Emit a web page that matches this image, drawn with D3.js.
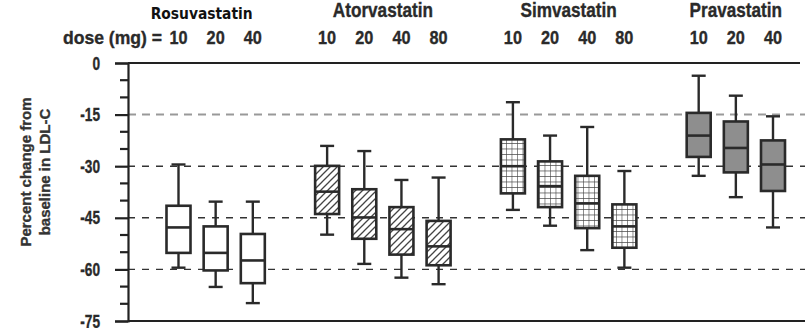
<!DOCTYPE html>
<html><head><meta charset="utf-8">
<script src="https://cdn.jsdelivr.net/npm/d3@7"></script>
<style>
body{margin:0;background:#fff;}
svg{display:block;}
.cond{font-family:"Liberation Sans",Arial,sans-serif;font-weight:bold;stroke:#2a2a2a;stroke-width:0.35px;}
</style></head><body>
<svg id="chart" width="805" height="328"></svg>
<script>
const drugs = ["Rosuvastatin","Atorvastatin","Simvastatin","Pravastatin"];
const doses = [[10,20,40],[10,20,40,80],[10,20,40,80],[10,20,40]];
const whiskerHigh = [[-29.5,-40.3,-40.3],[-24.1,-25.6,-34,-33.3],[-11.4,-21.1,-18.6,-31.4],[-3.7,-9.5,-15.5]];
const q3 = [[-41.5,-47.5,-49.7],[-29.9,-36.7,-41.9,-45.9],[-22.2,-28.6,-32.8,-41.1],[-14.5,-17,-22.5]];
const median = [[-47.8,-55.2,-57.4],[-37.4,-44.9,-48.3,-53.3],[-30,-35.8,-40.8,-47.5],[-21.1,-24.7,-29.5]];
const q1 = [[-55.2,-60.3,-64],[-43.9,-51.1,-55.7,-58.8],[-37.9,-41.9,-48,-53.7],[-27.3,-31.8,-37.2]];
const whiskerLow = [[-59.5,-65.1,-69.8],[-49.9,-58.4,-62.4,-64.3],[-42.7,-47.3,-54.4,-59.5],[-32.8,-39,-47.8]];
const yTicks = [0,-15,-30,-45,-60,-75];
const minorTicks = d3.range(0,-76,-5);
const gridValues = [-15,-30,-45,-60];
const yLabelLines = ["Percent change from","baseline in LDL-C"];
const doseLabel = "dose (mg) =";

const svg = d3.select("#chart");
const y = d3.scaleLinear().domain([0,-75]).range([63,321]);

const boxes = [];
let slot = 0;
drugs.forEach((d,gi)=>{
  doses[gi].forEach((dose,i)=>{
    boxes.push({drug:d, gi, dose, slot, hi:whiskerHigh[gi][i], q3:q3[gi][i], med:median[gi][i], q1:q1[gi][i], lo:whiskerLow[gi][i]});
    slot++;
  });
  slot++;
});
const x = d3.scaleLinear().domain([0,16]).range([178.5,773]);
const bw = 24, cap = 14;
const ink = "#2a2a2a";

// patterns
const defs = svg.append("defs");
const hatch = defs.append("pattern").attr("id","hatch").attr("patternUnits","userSpaceOnUse")
  .attr("width",7).attr("height",7);
hatch.append("rect").attr("width",7).attr("height",7).attr("fill","#fff");
hatch.append("path").attr("d","M-1,8 L8,-1 M-2,2 L2,-2 M5,9 L9,5").attr("stroke","#444").attr("stroke-width",1.3);
const grid = defs.append("pattern").attr("id","grid").attr("patternUnits","userSpaceOnUse")
  .attr("width",5.5).attr("height",5.5);
grid.append("rect").attr("width",5.5).attr("height",5.5).attr("fill","#fff");
grid.append("path").attr("d","M0,0 L0,5.5 M0,0 L5.5,0").attr("stroke","#444").attr("stroke-width",1.2);
const fills = ["#fff","url(#hatch)","url(#grid)","#8e8e8e"];

// gridlines
svg.append("g").selectAll("line").data(gridValues).join("line")
  .attr("x1",128).attr("x2",805).attr("y1",d=>y(d)).attr("y2",d=>y(d))
  .attr("stroke",d=>d===-15?"#999":"#333")
  .attr("stroke-width",d=>d===-15?2:1.4)
  .attr("stroke-dasharray",d=>d===-15?"8,6":"7,7");

// top and bottom solid lines
svg.append("g").selectAll("line").data([0,-75]).join("line")
  .attr("x1",128).attr("x2",d=>d===0?800:805).attr("y1",d=>y(d)).attr("y2",d=>y(d))
  .attr("stroke","#222").attr("stroke-width",2.2);

// y axis
const yAxis = d3.axisLeft(y).tickValues(yTicks).tickSize(13).tickFormat(d=>String(d));
const ga = svg.append("g").attr("transform","translate(128,0)").call(yAxis);
ga.select(".domain").attr("stroke","#222").attr("stroke-width",2.2);
ga.selectAll(".tick line").attr("stroke","#222").attr("stroke-width",2.2);
ga.selectAll(".tick text").attr("class","cond").attr("font-size",18).attr("fill","#2a2a2a")
  .attr("x",0).attr("dy","0.34em").attr("transform","translate(-28,0) scale(0.76,1)");
svg.append("g").selectAll("line").data(minorTicks.filter(v=>!yTicks.includes(v))).join("line")
  .attr("x1",120).attr("x2",128).attr("y1",d=>y(d)).attr("y2",d=>y(d))
  .attr("stroke","#222").attr("stroke-width",2.2);

// y label
const yl = svg.append("g").attr("transform","translate(31,172) rotate(-90)");
yl.selectAll("text").data(yLabelLines).join("text").attr("class","cond")
  .attr("font-size",15).attr("fill","#333").style("stroke","#333").attr("text-anchor","middle")
  .attr("x",0).attr("y",(d,i)=>i*18.5)
  .text(d=>d);

// boxes
const gb = svg.append("g").selectAll("g").data(boxes).join("g");
gb.append("line").attr("x1",d=>x(d.slot)).attr("x2",d=>x(d.slot)).attr("y1",d=>y(d.hi)).attr("y2",d=>y(d.lo))
  .attr("stroke",ink).attr("stroke-width",2.4);
gb.append("line").attr("x1",d=>x(d.slot)-cap/2).attr("x2",d=>x(d.slot)+cap/2).attr("y1",d=>y(d.hi)).attr("y2",d=>y(d.hi))
  .attr("stroke",ink).attr("stroke-width",2.4);
gb.append("line").attr("x1",d=>x(d.slot)-cap/2).attr("x2",d=>x(d.slot)+cap/2).attr("y1",d=>y(d.lo)).attr("y2",d=>y(d.lo))
  .attr("stroke",ink).attr("stroke-width",2.4);
gb.append("rect").attr("x",d=>x(d.slot)-bw/2).attr("width",bw)
  .attr("y",d=>y(d.q3)).attr("height",d=>y(d.q1)-y(d.q3))
  .attr("fill",d=>fills[d.gi]).attr("stroke",ink).attr("stroke-width",2.6);
gb.append("line").attr("x1",d=>x(d.slot)-bw/2).attr("x2",d=>x(d.slot)+bw/2).attr("y1",d=>y(d.med)).attr("y2",d=>y(d.med))
  .attr("stroke",ink).attr("stroke-width",2.6);

// dose labels
svg.append("g").selectAll("text").data(boxes).join("text").attr("class","cond")
  .attr("transform",d=>`translate(${x(d.slot)},43.5) scale(0.88,1)`)
  .attr("text-anchor","middle").attr("font-size",18.5).attr("fill","#2a2a2a")
  .text(d=>d.dose);
svg.append("text").attr("class","cond").attr("x",63).attr("y",43.5)
  .attr("textLength",99).attr("lengthAdjust","spacingAndGlyphs")
  .attr("font-size",18.5).attr("fill","#2a2a2a").text(doseLabel);

// drug headings
drugs.forEach((d,gi)=>{
  const bs = boxes.filter(b=>b.gi===gi);
  const cx = (x(bs[0].slot)+x(bs[bs.length-1].slot))/2;
  if(gi===0){
    svg.append("text").attr("x",cx-14).attr("y",18.5).attr("text-anchor","middle").attr("fill","#111")
      .attr("font-family","DejaVu Sans, Verdana, sans-serif").attr("font-weight","bold").attr("font-size",15)
      .attr("textLength",102).attr("lengthAdjust","spacingAndGlyphs").text(d);
  } else {
    svg.append("text").attr("class","cond").attr("transform",`translate(${cx},17) scale(0.88,1)`)
      .attr("text-anchor","middle").attr("font-size",19.5).attr("fill","#2a2a2a").text(d);
  }
});
</script>
</body></html>
